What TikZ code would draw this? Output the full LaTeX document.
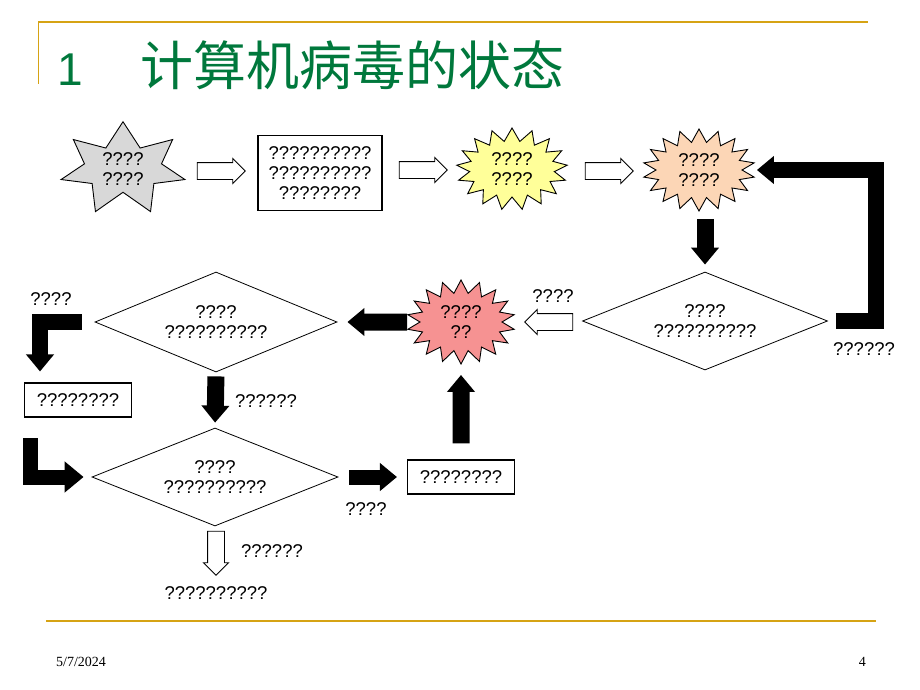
\documentclass[tikz,border=0pt]{standalone}
\usepackage{fontspec}
\setmainfont{Liberation Sans}
\newfontfamily\cjkfont{Noto Sans CJK SC}
\newfontfamily\datefont{Liberation Serif}
\usetikzlibrary{arrows.meta, calc, positioning, shapes.geometric, shapes.symbols, shapes.arrows}
\definecolor{gold}{RGB}{214,163,20}
\definecolor{titlegreen}{RGB}{0,120,60}
\definecolor{graystar}{RGB}{216,216,216}
\definecolor{yellowburst}{RGB}{255,255,153}
\definecolor{peachburst}{RGB}{252,214,182}
\definecolor{redburst}{RGB}{246,146,146}
\newcommand{\qs}{\fontsize{18.5}{20}\selectfont}

\begin{document}
\begin{tikzpicture}[x=1pt, y=-1pt,
	burst/.style={starburst, draw, line width=0.9pt, random starburst=0, starburst points=17, starburst point height=13pt, inner sep=0pt, align=center, font=\qs},
	qbox/.style={draw, line width=1.1pt, inner sep=0pt, align=center, font=\qs},
	decision/.style={diamond, aspect=2.5, draw, line width=0.8pt, inner sep=0pt, minimum width=245pt, minimum height=98pt, align=center, font=\qs},
	blk/.style={line width=17pt, line join=miter, -{Triangle[length=17pt, width=27pt]}},
	hollow/.style={single arrow, draw, line width=0.9pt, fill=white, inner xsep=0pt, inner ysep=8pt, minimum height=48pt, single arrow head extend=4pt, single arrow tip angle=90},
	lbl/.style={font=\qs, inner sep=0pt}]

\useasboundingbox (0,0) rectangle (920,690);

% slide frame
\draw[gold, line width=2.5pt] (38,22) -- (868,22);
\draw[gold, line width=1pt] (38,22) -- (38,84);
\draw[gold, line width=2.5pt] (46,621) -- (876,621);

\node[anchor=base west, text=titlegreen, font=\fontsize{46}{46}\selectfont, inner sep=0pt] (num) at (57,86) {1};
\node[anchor=base west, text=titlegreen, font=\cjkfont\fontsize{53}{53}\selectfont, inner sep=0pt] (title) at (140,86) {计算机病毒的状态};

\node[anchor=base west, font=\datefont\fontsize{14}{14}\selectfont, inner sep=0pt] (date) at (56,666) {5/7/2024};
\node[anchor=base east, font=\datefont\fontsize{14}{14}\selectfont, inner sep=0pt] (page) at (866,666) {4};

% states, top row
\node[burst, starburst points=7, starburst point height=24pt, fill=graystar, minimum width=127pt, minimum height=88pt] (star7) at (123,169) {????\\????};
\node[qbox, minimum width=124pt, minimum height=75pt] (box1) at (320,173) {??????????\\??????????\\????????};
\node[burst, fill=yellowburst, minimum width=111pt, minimum height=82pt] (burstY) at (512,169) {????\\????};
\node[burst, starburst points=18, fill=peachburst, minimum width=112pt, minimum height=82pt] (burstP) at (699,170) {????\\????};

% middle row
\node[decision] (diaR) at (705,321) {????\\??????????};
\node[burst, starburst points=18, fill=redburst, minimum width=108pt, minimum height=84pt] (burstR) at (461,322) {????\\??};
\node[decision, minimum width=242pt, minimum height=100pt] (diaL) at (216,322) {????\\??????????};

% lower rows
\node[qbox, minimum width=107pt, minimum height=34pt] (boxL) at (78,400) {????????};
\node[decision, minimum width=246pt] (diaB) at (215,477) {????\\??????????};
\node[qbox, minimum width=107pt, minimum height=34pt] (boxB) at (461,477) {????????};
\node[lbl] (bottom) at (216,593) {??????????};

% hollow arrows
\node[hollow] (h1) at (217,171) {};
\node[hollow] (h2) at (419,170) {};
\node[hollow] (h3) at (605,171) {};
\node[hollow, shape border rotate=180] (h4) at (553,322) {};
\node[hollow, shape border rotate=270, inner xsep=8pt, inner ysep=0pt, minimum height=44pt] (h5) at (216,549) {};

% black arrows
\coordinate (rbend) at (876,321);
\coordinate (lbend) at (40,322);
\coordinate (lstart) at (30,438);
\draw[blk, line width=16pt, shorten <=8pt, shorten >=14pt] (diaR.east) -- (rbend) |- (burstP.east);
\draw[blk, shorten <=7pt, shorten >=7pt] (diaR.north |- burstP.south) -- (diaR.north);
\draw[blk, shorten <=12pt, shorten >=10pt] (burstR.west) -- (diaL.east);
\draw[blk, line width=16pt, shorten <=13pt, shorten >=11pt] (diaL.west) -- (lbend) -- (lbend |- boxL.north);
\draw[blk, line width=15pt, -{Triangle[length=19pt, width=30pt]}, shorten >=8pt] (lstart) |- (diaB.west);
\draw[blk, shorten <=4pt, shorten >=5pt] (diaL.south) -- (diaB.north);
\draw[blk, line width=15pt, shorten <=11pt, shorten >=10pt] (diaB.east) -- (boxB.west);
\draw[blk, shorten <=16pt, shorten >=10pt] (boxB.north) -- (burstR.south);

% labels
\node[lbl] (l1) at (553,296) {????};
\node[lbl] (l2) at (864,349) {??????};
\node[lbl] (l3) at (51,299) {????};
\node[lbl] (l4) at (266,401) {??????};
\node[lbl] (l5) at (366,509) {????};
\node[lbl] (l6) at (272,551) {??????};

\end{tikzpicture}
\end{document}
